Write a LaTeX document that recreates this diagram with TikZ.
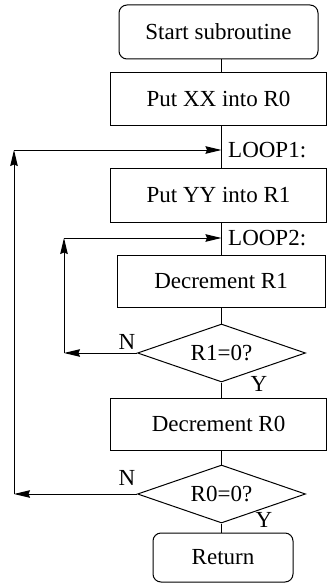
\documentclass[tikz,border=0pt]{standalone}
\usepackage{fontspec}
\setmainfont{Liberation Serif}
\usetikzlibrary{shapes.geometric,arrows.meta}
\begin{document}
\begin{tikzpicture}[x=1pt,y=-1pt,
  every node/.style={font=\fontsize{23}{27}\selectfont},
  base/.style={draw,line width=1pt,inner sep=0pt},
  procbox/.style={base,rectangle},
  termbox/.style={base,rectangle,rounded corners=8pt},
  decbox/.style={base,diamond,minimum width=168pt,minimum height=58pt,aspect=2.9},
  lbl/.style={inner sep=0pt},
  flow/.style={line width=1pt},
  arr/.style={line width=1pt,-{Stealth[length=16pt,width=7.5pt,inset=1.5pt]}}]
\useasboundingbox (0,0) rectangle (328,583);
\coordinate (axis) at (221.5,0);
\node[termbox,minimum width=199pt,minimum height=54pt] (start) at (218.5,32) {Start subroutine};
\node[procbox,minimum width=216pt,minimum height=52pt] (put0) at (218.5,99) {Put XX into R0};
\coordinate (loop1) at (221.5,150);
\node[lbl,anchor=west] (l1) at (228,150) {LOOP1:};
\node[procbox,minimum width=216pt,minimum height=54pt] (put1) at (218.5,195) {Put YY into R1};
\coordinate (loop2) at (221.5,238);
\node[lbl,anchor=west] (l2) at (228,238) {LOOP2:};
\node[procbox,minimum width=208pt,minimum height=52pt] (dec1) at (221,281) {Decrement R1};
\node[decbox] (d1) at (221.5,353) {R1=0?};
\node[procbox,minimum width=216pt,minimum height=52pt] (dec0) at (218.5,424) {Decrement R0};
\node[decbox] (d0) at (221.5,494) {R0=0?};
\node[termbox,minimum width=140pt,minimum height=49pt] (ret) at (223,557.5) {Return};
\node[lbl] (n1) at (127,342) {N};
\node[lbl] (y1) at (259,384) {Y};
\node[lbl] (n0) at (127,478) {N};
\node[lbl] (y0) at (264,520) {Y};
\coordinate (c1a) at (64,353);
\coordinate (c1b) at (64,238);
\coordinate (c0a) at (14,494);
\coordinate (c0b) at (14,150);
% main flow
\draw[flow] (start.south -| axis) -- (put0.north -| axis);
\draw[flow] (put0.south -| axis) -- (put1.north -| axis);
\draw[flow] (put1.south -| axis) -- (dec1.north -| axis);
\draw[flow] (dec1.south -| axis) -- (d1.north);
\draw[flow] (d1.south) -- (dec0.north -| axis);
\draw[flow] (dec0.south -| axis) -- (d0.north);
\draw[flow] (d0.south) -- (ret.north -| axis);
% inner loop
\draw[arr] (d1.west) -- (c1a);
\draw[arr] (c1a) -- (c1b);
\draw[arr] (c1b) -- (loop2);
% outer loop
\draw[arr] (d0.west) -- (c0a);
\draw[arr] (c0a) -- (c0b);
\draw[arr] (c0b) -- (loop1);
\end{tikzpicture}
\end{document}
